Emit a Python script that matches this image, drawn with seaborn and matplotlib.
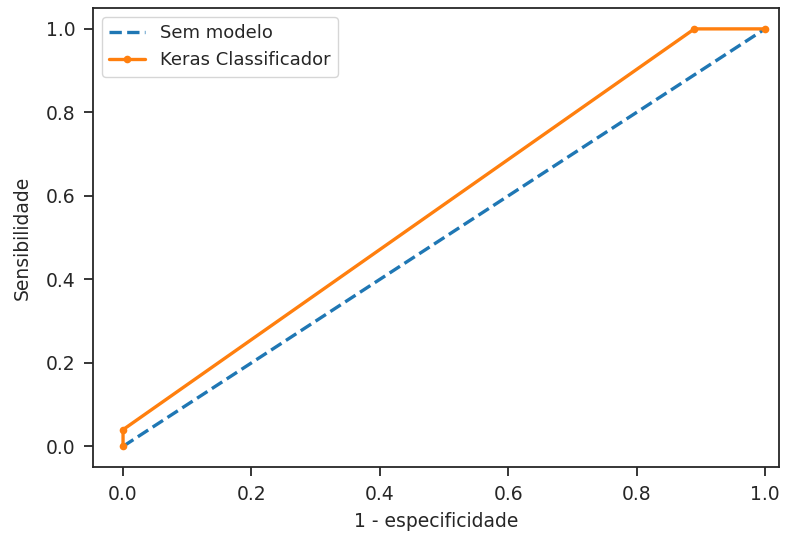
import matplotlib
matplotlib.use("Agg")
import matplotlib.pyplot as plt
import seaborn as sns

# reta de referencia (sem modelo)
base_fpr = [0.0, 1.0]
base_tpr = [0.0, 1.0]

# curva ROC do classificador
keras_fpr = [0.0, 0.0, 0.89, 1.0]
keras_tpr = [0.0, 0.04, 1.0, 1.0]

sns.set_style("ticks")
plt.rcParams["font.family"] = ["DejaVu Sans"]
plt.rcParams["font.size"] = 13

fig, ax = plt.subplots(figsize=(7.87, 5.34), dpi=100)
sns.lineplot(x=base_fpr, y=base_tpr, ax=ax, linestyle="--", color="#1f77b4",
             linewidth=2.4, label="Sem modelo", sort=False, estimator=None)
sns.lineplot(x=keras_fpr, y=keras_tpr, ax=ax, marker=".", markersize=11,
             markeredgewidth=0, color="#ff7f0e", linewidth=2.4,
             label="Keras Classificador", sort=False, estimator=None)

ax.set_xlim(-0.047, 1.022)
ax.set_xlabel("1 - especificidade", fontsize=13.5, labelpad=6)
ax.set_ylabel("Sensibilidade", fontsize=13.5, labelpad=10)
ax.tick_params(labelsize=13.5, length=6.5, width=1.3, pad=6)
ax.legend(loc="upper left", fontsize=13)
for s in ax.spines.values():
    s.set_visible(True)
    s.set_linewidth(1.3)

fig.subplots_adjust(left=0.118, right=0.99, top=0.985, bottom=0.125)
fig.savefig("out.png", dpi=100)
